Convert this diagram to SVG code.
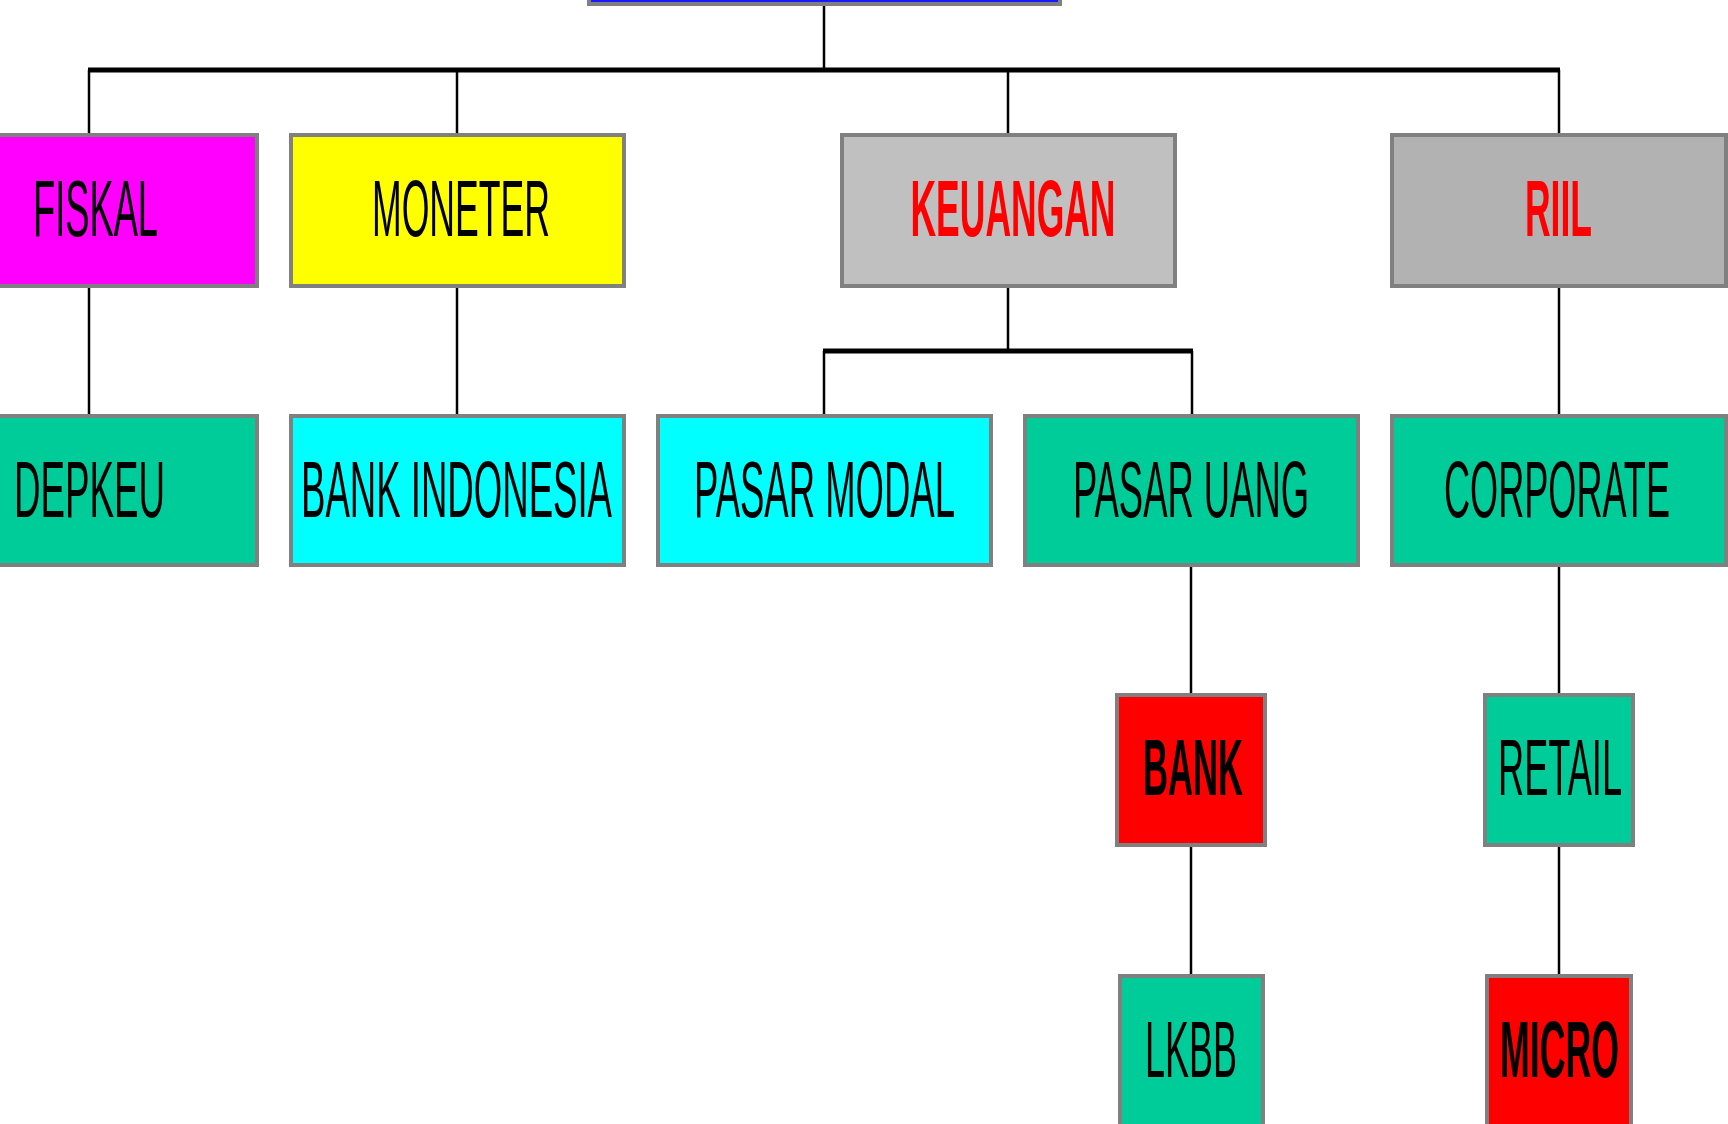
<svg xmlns="http://www.w3.org/2000/svg" width="1728" height="1124" viewBox="0 0 1728 1124">
<style>
.box{stroke:#808080;stroke-width:4}
.t{font-family:"Liberation Sans",Arial,sans-serif;font-size:80px;text-anchor:middle;fill:#000}
.b{font-weight:bold}
.r{fill:#ff0000}
.ln{stroke:#000;stroke-width:2.5;fill:none}
.hl{stroke:#000;stroke-width:5;fill:none}
</style>
<rect width="1728" height="1124" fill="#fff"/>
<g id="connectors">
<line class="ln" x1="824" y1="6" x2="824" y2="70"/>
<line class="hl" x1="88" y1="70" x2="1560" y2="70"/>
<line class="ln" x1="89" y1="70" x2="89" y2="134"/>
<line class="ln" x1="457" y1="70" x2="457" y2="134"/>
<line class="ln" x1="1008" y1="70" x2="1008" y2="134"/>
<line class="ln" x1="1559" y1="70" x2="1559" y2="134"/>
<line class="ln" x1="89" y1="287" x2="89" y2="415"/>
<line class="ln" x1="457" y1="287" x2="457" y2="415"/>
<line class="ln" x1="1559" y1="287" x2="1559" y2="415"/>
<line class="ln" x1="1008" y1="287" x2="1008" y2="351"/>
<line class="hl" x1="823" y1="351" x2="1193" y2="351"/>
<line class="ln" x1="824" y1="351" x2="824" y2="415"/>
<line class="ln" x1="1192" y1="351" x2="1192" y2="415"/>
<line class="ln" x1="1191" y1="566" x2="1191" y2="694"/>
<line class="ln" x1="1191" y1="846" x2="1191" y2="975"/>
<line class="ln" x1="1559" y1="566" x2="1559" y2="694"/>
<line class="ln" x1="1559" y1="846" x2="1559" y2="975"/>
</g>
<g id="root"><rect class="box" x="589" y="-150" width="471" height="154" fill="#1a1aff"/></g>
<g id="fiskal"><rect class="box" x="-79" y="135" width="336" height="151" fill="#ff00ff"/><text class="t" x="95.5" y="236" textLength="125" lengthAdjust="spacingAndGlyphs">FISKAL</text></g>
<g id="moneter"><rect class="box" x="291" y="135" width="333" height="151" fill="#ffff00"/><text class="t" x="461" y="236" textLength="178" lengthAdjust="spacingAndGlyphs">MONETER</text></g>
<g id="keuangan"><rect class="box" x="842" y="135" width="333" height="151" fill="#c0c0c0"/><text class="t b r" x="1013" y="236" textLength="205" lengthAdjust="spacingAndGlyphs">KEUANGAN</text></g>
<g id="riil"><rect class="box" x="1392" y="135" width="334" height="151" fill="#b2b2b2"/><text class="t b r" x="1558.5" y="236" textLength="67" lengthAdjust="spacingAndGlyphs">RIIL</text></g>
<g id="depkeu"><rect class="box" x="-79" y="416" width="336" height="149" fill="#00cc99"/><text class="t" x="89.5" y="517" textLength="151" lengthAdjust="spacingAndGlyphs">DEPKEU</text></g>
<g id="bank-indonesia"><rect class="box" x="291" y="416" width="333" height="149" fill="#00ffff"/><text class="t" x="456.5" y="517" textLength="311" lengthAdjust="spacingAndGlyphs">BANK INDONESIA</text></g>
<g id="pasar-modal"><rect class="box" x="658" y="416" width="333" height="149" fill="#00ffff"/><text class="t" x="824.5" y="517" textLength="261" lengthAdjust="spacingAndGlyphs">PASAR MODAL</text></g>
<g id="pasar-uang"><rect class="box" x="1025" y="416" width="333" height="149" fill="#00cc99"/><text class="t" x="1191" y="517" textLength="236" lengthAdjust="spacingAndGlyphs">PASAR UANG</text></g>
<g id="corporate"><rect class="box" x="1392" y="416" width="334" height="149" fill="#00cc99"/><text class="t" x="1557" y="517" textLength="226" lengthAdjust="spacingAndGlyphs">CORPORATE</text></g>
<g id="bank"><rect class="box" x="1117" y="695" width="148" height="150" fill="#ff0000"/><text class="t b" x="1193" y="795" textLength="100" lengthAdjust="spacingAndGlyphs">BANK</text></g>
<g id="retail"><rect class="box" x="1485" y="695" width="148" height="150" fill="#00cc99"/><text class="t" x="1560" y="795" textLength="124" lengthAdjust="spacingAndGlyphs">RETAIL</text></g>
<g id="lkbb"><rect class="box" x="1120" y="976" width="143" height="200" fill="#00cc99"/><text class="t" x="1191" y="1077" textLength="92" lengthAdjust="spacingAndGlyphs">LKBB</text></g>
<g id="micro"><rect class="box" x="1487" y="976" width="144" height="200" fill="#ff0000"/><text class="t b" x="1559.5" y="1077" textLength="119" lengthAdjust="spacingAndGlyphs">MICRO</text></g>
</svg>
